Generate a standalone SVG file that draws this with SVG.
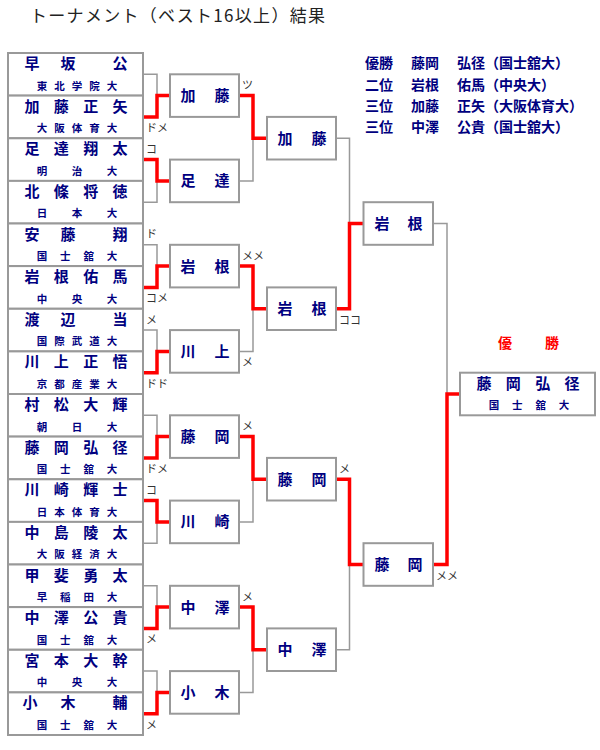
<svg xmlns="http://www.w3.org/2000/svg" width="600" height="750" viewBox="0 0 600 750">
<style>
.bx{fill:#fff;stroke:#999;stroke-width:2}
.nm{font-family:"Noto Sans CJK JP","Noto Sans CJK SC",sans-serif;font-size:15px;font-weight:bold;fill:#000080;text-anchor:middle}
.un{font-family:"Noto Sans CJK JP","Noto Sans CJK SC",sans-serif;font-size:10.5px;font-weight:bold;fill:#000080;text-anchor:middle}
.g{stroke:#999;stroke-width:1.5;fill:none}
.w{stroke:#f00;stroke-width:3.5;fill:none;stroke-linejoin:miter}
.lb{font-family:"Noto Sans CJK JP","Noto Sans CJK SC",sans-serif;font-size:11px;fill:#333}
.sm{font-family:"Noto Sans CJK JP","Noto Sans CJK SC",sans-serif;font-size:14px;font-weight:bold;fill:#000080}
.tt{font-family:"Noto Sans CJK JP","Noto Sans CJK SC",sans-serif;font-size:17px;fill:#222}
</style>
<text class="tt" x="30" y="22" textLength="295" lengthAdjust="spacing">トーナメント（ベスト16以上）結果</text>

<g id="summary">
<text class="sm" y="68"><tspan x="365">優勝</tspan><tspan x="411">藤岡</tspan><tspan x="457">弘径（国士舘大）</tspan></text>
<text class="sm" y="89.5"><tspan x="365">二位</tspan><tspan x="411">岩根</tspan><tspan x="457">佑馬（中央大）</tspan></text>
<text class="sm" y="111"><tspan x="365">三位</tspan><tspan x="411">加藤</tspan><tspan x="457">正矢（大阪体育大）</tspan></text>
<text class="sm" y="132"><tspan x="365">三位</tspan><tspan x="411">中澤</tspan><tspan x="457">公貴（国士舘大）</tspan></text>
</g>

<g id="connectors">
<!-- round 0 to round 1 -->
<path class="g" d="M143 74.3H157V116.9H143M157 95.6H170"/>
<path class="g" d="M143 159.6H157V202.2H143M157 180.9H170"/>
<path class="g" d="M143 244.8H157V287.4H143M157 266.1H170"/>
<path class="g" d="M143 330.1H157V372.7H143M157 351.4H170"/>
<path class="g" d="M143 415.3H157V457.9H143M157 436.6H170"/>
<path class="g" d="M143 500.6H157V543.2H143M157 521.9H170"/>
<path class="g" d="M143 585.8H157V628.4H143M157 607.1H170"/>
<path class="g" d="M143 671.1H157V713.7H143M157 692.4H170"/>
<!-- round 1 to round 2 -->
<path class="g" d="M239 95.6H253V180.9H239M253 138.3H267"/>
<path class="g" d="M239 266.1H253V351.4H239M253 308.8H267"/>
<path class="g" d="M239 436.6H253V521.9H239M253 479.3H267"/>
<path class="g" d="M239 607.1H253V692.4H239M253 649.8H267"/>
<!-- round 2 to round 3 -->
<path class="g" d="M336 138.3H349.5V308.8H336M349.5 223.5H363.5"/>
<path class="g" d="M336 479.3H349.5V649.8H336M349.5 564.5H363.5"/>
<!-- final -->
<path class="g" d="M433 223.5H447V564.5H433M447 394H460"/>
<!-- winners -->
<path class="w" d="M143 116.9H157V95.6H170"/>
<path class="w" d="M143 159.6H157V180.9H170"/>
<path class="w" d="M143 287.4H157V266.1H170"/>
<path class="w" d="M143 372.7H157V351.4H170"/>
<path class="w" d="M143 457.9H157V436.6H170"/>
<path class="w" d="M143 500.6H157V521.9H170"/>
<path class="w" d="M143 628.4H157V607.1H170"/>
<path class="w" d="M143 713.7H157V692.4H170"/>
<path class="w" d="M239 95.6H253V138.3H267"/>
<path class="w" d="M239 266.1H253V308.8H267"/>
<path class="w" d="M239 436.6H253V479.3H267"/>
<path class="w" d="M239 607.1H253V649.8H267"/>
<path class="w" d="M336 308.8H349.5V223.5H363.5"/>
<path class="w" d="M336 479.3H349.5V564.5H363.5"/>
<path class="w" d="M433 564.5H447V394H460"/>
<!-- scores -->
<text class="lb" x="146" y="131.9">ドメ</text>
<text class="lb" x="146" y="153.1">コ</text>
<text class="lb" x="146" y="238.3">ド</text>
<text class="lb" x="146" y="302.4">コメ</text>
<text class="lb" x="146" y="323.6">メ</text>
<text class="lb" x="146" y="387.7">ドド</text>
<text class="lb" x="146" y="472.9">ドメ</text>
<text class="lb" x="146" y="494.1">コ</text>
<text class="lb" x="146" y="643.4">メ</text>
<text class="lb" x="146" y="728.7">メ</text>
<text class="lb" x="242" y="89.1">ツ</text>
<text class="lb" x="242" y="259.6">メメ</text>
<text class="lb" x="242" y="366.4">メ</text>
<text class="lb" x="242" y="430.1">メ</text>
<text class="lb" x="242" y="600.6">メ</text>
<text class="lb" x="339" y="323.8">ココ</text>
<text class="lb" x="339" y="472.8">メ</text>
<text class="lb" x="436" y="579.5">メメ</text>
</g>

<g id="p1"><rect class="bx" x="8" y="53" width="135" height="42.6"/><text class="nm" x="32 68 120" y="69">早坂公</text><text class="un" x="42 59.5 77 94.5 112" y="89.5">東北学院大</text></g>
<g id="p2"><rect class="bx" x="8" y="95.6" width="135" height="42.6"/><text class="nm" x="32 61.3 90.7 120" y="111.6">加藤正矢</text><text class="un" x="42 59.5 77 94.5 112" y="132.1">大阪体育大</text></g>
<g id="p3"><rect class="bx" x="8" y="138.3" width="135" height="42.6"/><text class="nm" x="32 61.3 90.7 120" y="154.3">足達翔太</text><text class="un" x="42 77 112" y="174.8">明治大</text></g>
<g id="p4"><rect class="bx" x="8" y="180.9" width="135" height="42.6"/><text class="nm" x="32 61.3 90.7 120" y="196.9">北條将徳</text><text class="un" x="42 77 112" y="217.4">日本大</text></g>
<g id="p5"><rect class="bx" x="8" y="223.5" width="135" height="42.6"/><text class="nm" x="32 68 120" y="239.5">安藤翔</text><text class="un" x="42 65.3 88.7 112" y="260">国士舘大</text></g>
<g id="p6"><rect class="bx" x="8" y="266.1" width="135" height="42.6"/><text class="nm" x="32 61.3 90.7 120" y="282.1">岩根佑馬</text><text class="un" x="42 77 112" y="302.6">中央大</text></g>
<g id="p7"><rect class="bx" x="8" y="308.8" width="135" height="42.6"/><text class="nm" x="32 68 120" y="324.8">渡辺当</text><text class="un" x="42 59.5 77 94.5 112" y="345.3">国際武道大</text></g>
<g id="p8"><rect class="bx" x="8" y="351.4" width="135" height="42.6"/><text class="nm" x="32 61.3 90.7 120" y="367.4">川上正悟</text><text class="un" x="42 59.5 77 94.5 112" y="387.9">京都産業大</text></g>
<g id="p9"><rect class="bx" x="8" y="394" width="135" height="42.6"/><text class="nm" x="32 61.3 90.7 120" y="410">村松大輝</text><text class="un" x="42 77 112" y="430.5">朝日大</text></g>
<g id="p10"><rect class="bx" x="8" y="436.6" width="135" height="42.6"/><text class="nm" x="32 61.3 90.7 120" y="452.6">藤岡弘径</text><text class="un" x="42 65.3 88.7 112" y="473.1">国士舘大</text></g>
<g id="p11"><rect class="bx" x="8" y="479.3" width="135" height="42.6"/><text class="nm" x="32 61.3 90.7 120" y="495.3">川崎輝士</text><text class="un" x="42 59.5 77 94.5 112" y="515.8">日本体育大</text></g>
<g id="p12"><rect class="bx" x="8" y="521.9" width="135" height="42.6"/><text class="nm" x="32 61.3 90.7 120" y="537.9">中島陵太</text><text class="un" x="42 59.5 77 94.5 112" y="558.4">大阪経済大</text></g>
<g id="p13"><rect class="bx" x="8" y="564.5" width="135" height="42.6"/><text class="nm" x="32 61.3 90.7 120" y="580.5">甲斐勇太</text><text class="un" x="42 65.3 88.7 112" y="601">早稲田大</text></g>
<g id="p14"><rect class="bx" x="8" y="607.1" width="135" height="42.6"/><text class="nm" x="32 61.3 90.7 120" y="623.1">中澤公貴</text><text class="un" x="42 65.3 88.7 112" y="643.6">国士舘大</text></g>
<g id="p15"><rect class="bx" x="8" y="649.8" width="135" height="42.6"/><text class="nm" x="32 61.3 90.7 120" y="665.8">宮本大幹</text><text class="un" x="42 77 112" y="686.3">中央大</text></g>
<g id="p16"><rect class="bx" x="8" y="692.4" width="135" height="42.6"/><text class="nm" x="30 68 120" y="708.4">小木輔</text><text class="un" x="42 65.3 88.7 112" y="728.9">国士舘大</text></g>

<g id="r1-1"><rect class="bx" x="170" y="74.3" width="69" height="42.6"/><text class="nm" x="188 222" y="101">加藤</text></g>
<g id="r1-2"><rect class="bx" x="170" y="159.6" width="69" height="42.6"/><text class="nm" x="188 222" y="186.3">足達</text></g>
<g id="r1-3"><rect class="bx" x="170" y="244.8" width="69" height="42.6"/><text class="nm" x="188 222" y="271.5">岩根</text></g>
<g id="r1-4"><rect class="bx" x="170" y="330.1" width="69" height="42.6"/><text class="nm" x="188 222" y="356.8">川上</text></g>
<g id="r1-5"><rect class="bx" x="170" y="415.3" width="69" height="42.6"/><text class="nm" x="188 222" y="442">藤岡</text></g>
<g id="r1-6"><rect class="bx" x="170" y="500.6" width="69" height="42.6"/><text class="nm" x="188 222" y="527.3">川崎</text></g>
<g id="r1-7"><rect class="bx" x="170" y="585.8" width="69" height="42.6"/><text class="nm" x="188 222" y="612.5">中澤</text></g>
<g id="r1-8"><rect class="bx" x="170" y="671.1" width="69" height="42.6"/><text class="nm" x="188 222" y="697.8">小木</text></g>

<g id="r2-1"><rect class="bx" x="267" y="116.9" width="69" height="42.6"/><text class="nm" x="285 319" y="143.7">加藤</text></g>
<g id="r2-2"><rect class="bx" x="267" y="287.4" width="69" height="42.6"/><text class="nm" x="285 319" y="314.2">岩根</text></g>
<g id="r2-3"><rect class="bx" x="267" y="457.9" width="69" height="42.6"/><text class="nm" x="285 319" y="484.7">藤岡</text></g>
<g id="r2-4"><rect class="bx" x="267" y="628.4" width="69" height="42.6"/><text class="nm" x="285 319" y="655.2">中澤</text></g>

<g id="r3-1"><rect class="bx" x="363.5" y="202.2" width="69.5" height="42.6"/><text class="nm" x="382 415" y="228.9">岩根</text></g>
<g id="r3-2"><rect class="bx" x="363.5" y="543.2" width="69.5" height="42.6"/><text class="nm" x="382 415" y="569.9">藤岡</text></g>

<g id="champion">
<text x="505 552" y="348" style="font-family:'Noto Sans CJK JP','Noto Sans CJK SC',sans-serif;font-size:14px;font-weight:bold;fill:#f00;text-anchor:middle">優勝</text>
<rect class="bx" x="460" y="372.7" width="135" height="42.6"/><text class="nm" x="484 513.3 542.7 572" y="388.7">藤岡弘径</text><text class="un" x="494 517.3 540.7 564" y="409.2">国士舘大</text>
</g>
</svg>
